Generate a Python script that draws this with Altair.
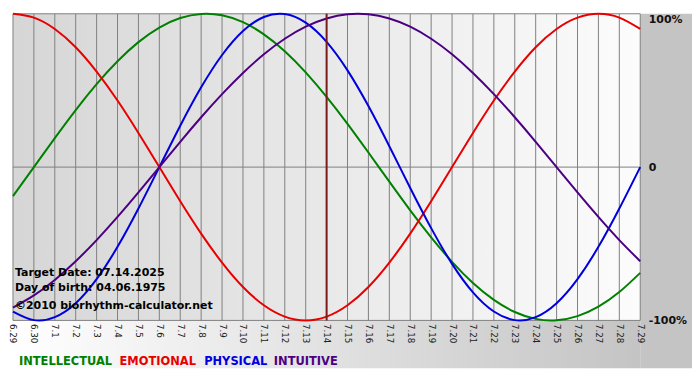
import altair as alt
import pandas as pd

dates = ["6.29", "6.30", "7.1", "7.2", "7.3", "7.4", "7.5", "7.6", "7.7", "7.8",
         "7.9", "7.10", "7.11", "7.12", "7.13", "7.14", "7.15", "7.16", "7.17",
         "7.18", "7.19", "7.20", "7.21", "7.22", "7.23", "7.24", "7.25", "7.26",
         "7.27", "7.28", "7.29"]

intellectual = [-0.189, 0.0, 0.189, 0.372, 0.541, 0.690, 0.815, 0.910, 0.972, 0.999,
                0.990, 0.945, 0.866, 0.756, 0.618, 0.458, 0.282, 0.095, -0.095, -0.282,
                -0.458, -0.618, -0.756, -0.866, -0.945, -0.990, -0.999, -0.972, -0.910,
                -0.815, -0.690]
emotional = [1.0, 0.975, 0.901, 0.782, 0.623, 0.434, 0.223, 0.0, -0.223, -0.434,
             -0.623, -0.782, -0.901, -0.975, -1.0, -0.975, -0.901, -0.782, -0.623, -0.434,
             -0.223, 0.0, 0.223, 0.434, 0.623, 0.782, 0.901, 0.975, 1.0, 0.975, 0.901]
physical = [-0.942, -0.998, -0.979, -0.888, -0.731, -0.520, -0.270, 0.0, 0.270, 0.520,
            0.731, 0.888, 0.979, 0.998, 0.942, 0.817, 0.631, 0.398, 0.136, -0.136,
            -0.398, -0.631, -0.817, -0.942, -0.998, -0.979, -0.888, -0.731, -0.520,
            -0.270, 0.0]
intuitive = [-0.916, -0.837, -0.736, -0.614, -0.476, -0.325, -0.165, 0.0, 0.165, 0.325,
             0.476, 0.614, 0.736, 0.837, 0.916, 0.969, 0.997, 0.997, 0.969, 0.916,
             0.837, 0.736, 0.614, 0.476, 0.325, 0.165, 0.0, -0.165, -0.325, -0.476, -0.614]

series_names = ["INTELLECTUAL", "EMOTIONAL", "PHYSICAL", "INTUITIVE"]
series_colors = ["#008000", "#e80000", "#0000dd", "#4b0082"]
target_date = "7.14"
info_lines = ["Target Date: 07.14.2025", "Day of birth: 04.06.1975",
              "\u00a92010 biorhythm-calculator.net"]
y_ticks = [-1, 0, 1]
y_labels = ["-100%", "0", "100%"]

# ---- build tables ----
rows = []
for name, vals in zip(series_names, [intellectual, emotional, physical, intuitive]):
    for d, v in zip(dates, vals):
        rows.append({"date": d, "series": name, "value": v})
df = pd.DataFrame(rows)
one = pd.DataFrame({"a": [0]})

W, H = 630, 308
STRIP_R = 52
STRIP_B = 48
FONT = "DejaVu Sans"

xscale = alt.Scale(type="point", padding=0, domain=dates)
yscale = alt.Scale(domain=[-1, 1], nice=False, zero=False)

x_axis = alt.Axis(title=None, labelAngle=90, labelFontSize=8.8, labelFont=FONT,
                  labelColor="#222222", ticks=False, domain=False, grid=False,
                  labelPadding=3, zindex=1, labelOverlap=False)
label_expr = " : ".join(
    [f"datum.value == {v} ? '{t}'" for v, t in zip(y_ticks, y_labels)]) + " : ''"
y_axis = alt.Axis(title=None, orient="right", values=y_ticks, labelExpr=label_expr,
                  labelFont=FONT, labelFontSize=11, labelFontWeight="bold",
                  labelColor="#111111", ticks=False, domain=False, grid=False,
                  labelPadding=8, zindex=1,
                  labelBaseline={"condition": {"test": "datum.value == 1", "value": "top"},
                                 "value": "middle"})

X = alt.X("date:O", scale=xscale, axis=x_axis, sort=dates)
Y = alt.Y("value:Q", scale=yscale, axis=y_axis)

plot_grad = {"gradient": "linear", "x1": 0, "x2": 1, "y1": 0, "y2": 0,
             "stops": [{"offset": 0, "color": "#d6d6d6"},
                       {"offset": 1, "color": "#fcfcfc"}]}
bottom_grad = {"gradient": "linear", "x1": 0, "x2": 1, "y1": 0, "y2": 0,
               "stops": [{"offset": 0, "color": "#ffffff"},
                         {"offset": 1, "color": "#c4c4c4"}]}

bg_plot = alt.Chart(one).mark_rect(fill=plot_grad).encode(
    x=alt.value(0), x2=alt.value(W), y=alt.value(0), y2=alt.value(H))
bg_right = alt.Chart(one).mark_rect(fill="#c4c4c4").encode(
    x=alt.value(W), x2=alt.value(W + STRIP_R), y=alt.value(0), y2=alt.value(H + STRIP_B))
bg_bottom = alt.Chart(one).mark_rect(fill=bottom_grad).encode(
    x=alt.value(0), x2=alt.value(W), y=alt.value(H), y2=alt.value(H + STRIP_B))

xgrid = alt.Chart(pd.DataFrame({"date": dates})).mark_rule(
    color="#808080", strokeWidth=1).encode(x=X)
ygrid = alt.Chart(pd.DataFrame({"value": y_ticks})).mark_rule(
    color="#808080", strokeWidth=1).encode(y=Y)

lines = alt.Chart(df).mark_line(strokeWidth=2, interpolate="natural").encode(
    x=X, y=Y,
    color=alt.Color("series:N", scale=alt.Scale(domain=series_names, range=series_colors),
                    legend=None))

target = alt.Chart(pd.DataFrame({"date": [target_date]})).mark_rule(
    color="#7a1c1c", strokeWidth=2).encode(x=X)

layers = [bg_plot, bg_right, bg_bottom, xgrid, ygrid, lines, target]

info_offsets = [48, 33, 14]
for txt, off in zip(info_lines, info_offsets):
    layers.append(alt.Chart(one).mark_text(
        align="left", baseline="middle", font=FONT, fontSize=11, fontWeight="bold",
        color="#000000").encode(x=alt.value(2), y=alt.value(H - off), text=alt.value(txt)))

legend_x = [6, 107, 192, 262]
for name, col, lx in zip(series_names, series_colors, legend_x):
    layers.append(alt.Chart(one).mark_text(
        align="left", baseline="middle", font=FONT, fontSize=11.5, fontWeight="bold",
        color=col).encode(x=alt.value(lx), y=alt.value(H + 42), text=alt.value(name)))

chart = alt.layer(*layers).properties(
    width=W, height=H, background="white",
    padding={"left": 0, "top": 0, "right": 0, "bottom": 0}
).configure_view(stroke=None)

chart.save("out.html", embed_options={"renderer": "svg", "actions": False})
